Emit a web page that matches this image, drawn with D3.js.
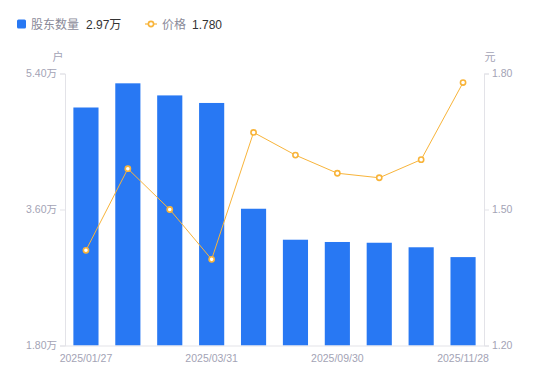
<!DOCTYPE html>
<html><head><meta charset="utf-8">
<script src="https://cdn.jsdelivr.net/npm/d3@7"></script>
<style>body{margin:0;background:#fff;}svg{display:block;font-family:"Liberation Sans","Noto Sans CJK SC",sans-serif;}</style>
</head><body><svg id="c" width="550" height="381"></svg>
<script>
const dates = ["2025/01/27","2025/02/20","2025/03/10","2025/03/31","2025/06/30","2025/08/20","2025/09/30","2025/10/20","2025/11/10","2025/11/28"];
const holders = [4.95,5.27,5.11,5.01,3.61,3.20,3.17,3.16,3.10,2.97]; // 万户
const prices = [1.41,1.59,1.50,1.39,1.67,1.62,1.58,1.57,1.61,1.78];
const leftTicks = [1.80,3.60,5.40];
const rightTicks = [1.20,1.50,1.80];
const xLabelIdx = [0,3,6,9];

const svg = d3.select("#c");
const L=65, R=484, T=73.5, B=345.5;
const barColor="#2878f3", lineColor="#f8b43a", axisColor="#e3e3e8", labelColor="#a3a3b5";

const x = d3.scaleBand().domain(dates).range([L,R]).paddingInner(0.4).paddingOuter(0.2);
const yL = d3.scaleLinear().domain([1.80,5.40]).range([B,T]);
const yR = d3.scaleLinear().domain([1.20,1.80]).range([B,T]);

// bars
svg.append("g").selectAll("rect").data(holders).join("rect")
  .attr("x",(d,i)=>x(dates[i])).attr("width",x.bandwidth())
  .attr("y",d=>yL(d)).attr("height",d=>B-yL(d)).attr("fill",barColor);

// axes
const axL = svg.append("g").attr("transform",`translate(${L},0)`)
  .call(d3.axisLeft(yL).tickValues(leftTicks).tickSize(5).tickPadding(3).tickFormat(d=>d.toFixed(2)+"万"));
const axR = svg.append("g").attr("transform",`translate(${R},0)`)
  .call(d3.axisRight(yR).tickValues(rightTicks).tickSize(5).tickPadding(3).tickFormat(d=>d.toFixed(2)));
const axB = svg.append("g").attr("transform",`translate(0,${B})`)
  .call(d3.axisBottom(x).tickValues(xLabelIdx.map(i=>dates[i])).tickSize(0).tickPadding(9));
[axL,axR,axB].forEach(a=>{
  a.select(".domain").attr("stroke",axisColor);
  a.selectAll(".tick line").attr("stroke",axisColor);
  a.selectAll("text").attr("fill",labelColor).attr("font-size","10.5px").attr("font-family","Liberation Sans, Noto Sans CJK SC, sans-serif");
});
axB.select(".domain").attr("d",`M${L},0.5H${R}`);

// unit labels
svg.append("text").attr("x",58).attr("y",61).attr("text-anchor","middle").attr("fill",labelColor).attr("font-size","11px").text("户");
svg.append("text").attr("x",490).attr("y",61).attr("text-anchor","middle").attr("fill",labelColor).attr("font-size","11px").text("元");

// line
const cx = i => x(dates[i]) + x.bandwidth()/2;
svg.append("path").datum(prices)
  .attr("d",d3.line().x((d,i)=>cx(i)).y(d=>yR(d)))
  .attr("fill","none").attr("stroke",lineColor).attr("stroke-width",1);
svg.append("g").selectAll("circle").data(prices).join("circle")
  .attr("cx",(d,i)=>cx(i)).attr("cy",d=>yR(d)).attr("r",2.6)
  .attr("fill","#fff").attr("stroke",lineColor).attr("stroke-width",1.6);

// legend
const lg = svg.append("g").attr("font-size","12px");
lg.append("rect").attr("x",17).attr("y",19.5).attr("width",9).attr("height",9).attr("rx",1.5).attr("fill",barColor);
lg.append("text").attr("x",31).attr("y",28.5).attr("fill","#8a8a99").text("股东数量");
lg.append("text").attr("x",86).attr("y",28.5).attr("fill","#333").text(holders[holders.length-1].toFixed(2)+"万");
lg.append("line").attr("x1",145).attr("x2",157).attr("y1",24).attr("y2",24).attr("stroke",lineColor).attr("stroke-width",1.2);
lg.append("circle").attr("cx",151).attr("cy",24).attr("r",2.6).attr("fill","#fff").attr("stroke",lineColor).attr("stroke-width",1.6);
lg.append("text").attr("x",162).attr("y",28.5).attr("fill","#8a8a99").text("价格");
lg.append("text").attr("x",192).attr("y",28.5).attr("fill","#333").text(prices[prices.length-1].toFixed(3));
</script></body></html>
